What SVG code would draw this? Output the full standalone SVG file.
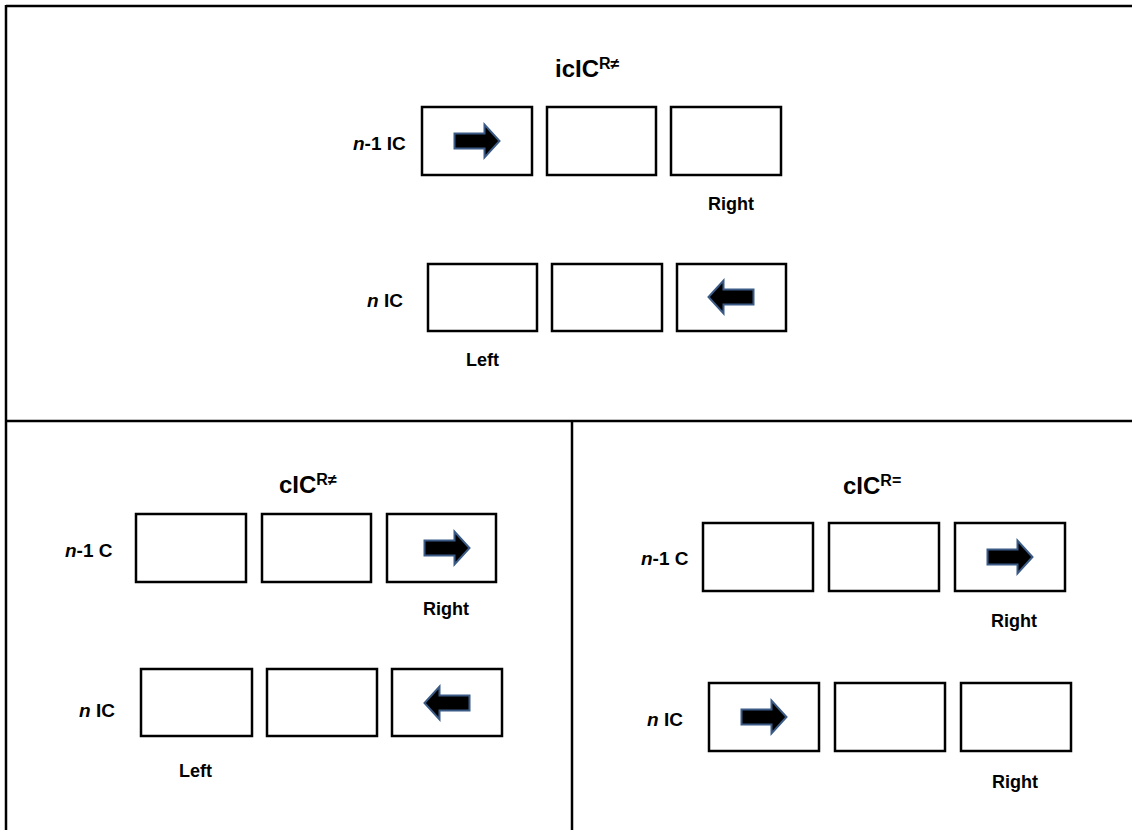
<svg xmlns="http://www.w3.org/2000/svg" xmlns:xlink="http://www.w3.org/1999/xlink" width="1132" height="830" viewBox="0 0 1132 830">
<style>
.frame{stroke:#000;stroke-width:2.5;fill:none}
.box{fill:#fff;stroke:#000;stroke-width:2.5}
.arr{fill:#000;stroke:#3b5b86;stroke-width:2;stroke-linejoin:miter}
.lbl{font-family:"Liberation Sans",Arial,sans-serif;font-size:18px;font-weight:bold;fill:#000}
.row{font-family:"Liberation Sans",Arial,sans-serif;font-size:19px;font-weight:bold;fill:#000}
.ttl{font-family:"Liberation Sans",Arial,sans-serif;font-size:24px;font-weight:bold;fill:#000}
.sup{font-size:16px}
</style>
<defs>
<path id="arrR" class="arr" d="M-22.5,-7.5 H7.5 V-16.5 L22.5,0 L7.5,16.5 V7.5 H-22.5 Z"/>
<path id="arrL" class="arr" d="M22.5,-7.5 H-7.5 V-16.5 L-22.5,0 L-7.5,16.5 V7.5 H22.5 Z"/>
</defs>
<rect width="1132" height="830" fill="#fff"/>
<g id="frame">
<line class="frame" x1="6" y1="6" x2="1132" y2="6"/>
<line class="frame" x1="6" y1="5" x2="6" y2="830"/>
<line class="frame" x1="6" y1="421" x2="1132" y2="421"/>
<line class="frame" x1="572" y1="421" x2="572" y2="830"/>
</g>
<g id="connectors"></g>
<g id="panel-top">
<text class="ttl" x="555" y="77">icIC<tspan class="sup" dy="-8">R≠</tspan></text>
<g id="top-row1">
<text class="row" x="353" y="150"><tspan font-style="italic">n</tspan>-1 IC</text>
<g id="t1b1"><rect class="box" x="422" y="107" width="110" height="68"/><use xlink:href="#arrR" x="477" y="141"/></g>
<g id="t1b2"><rect class="box" x="547" y="107" width="109" height="68"/></g>
<g id="t1b3"><rect class="box" x="671" y="107" width="110" height="68"/></g>
<text class="lbl" x="708" y="210">Right</text>
</g>
<g id="top-row2">
<text class="row" x="367" y="307"><tspan font-style="italic">n</tspan> IC</text>
<g id="t2b1"><rect class="box" x="428" y="264" width="109" height="67"/></g>
<g id="t2b2"><rect class="box" x="552" y="264" width="110" height="67"/></g>
<g id="t2b3"><rect class="box" x="677" y="264" width="109" height="67"/><use xlink:href="#arrL" x="731" y="297"/></g>
<text class="lbl" x="466" y="366">Left</text>
</g>
</g>
<g id="panel-bl">
<text class="ttl" x="279" y="493">cIC<tspan class="sup" dy="-8">R≠</tspan></text>
<g id="bl-row1">
<text class="row" x="65" y="557"><tspan font-style="italic">n</tspan>-1 C</text>
<g id="l1b1"><rect class="box" x="136" y="514" width="110" height="68"/></g>
<g id="l1b2"><rect class="box" x="262" y="514" width="109" height="68"/></g>
<g id="l1b3"><rect class="box" x="387" y="514" width="109" height="68"/><use xlink:href="#arrR" x="447" y="548"/></g>
<text class="lbl" x="423" y="615">Right</text>
</g>
<g id="bl-row2">
<text class="row" x="79" y="717"><tspan font-style="italic">n</tspan> IC</text>
<g id="l2b1"><rect class="box" x="141" y="669" width="111" height="67"/></g>
<g id="l2b2"><rect class="box" x="267" y="669" width="110" height="67"/></g>
<g id="l2b3"><rect class="box" x="392" y="669" width="110" height="67"/><use xlink:href="#arrL" x="447" y="703"/></g>
<text class="lbl" x="179" y="777">Left</text>
</g>
</g>
<g id="panel-br">
<text class="ttl" x="843" y="494">cIC<tspan class="sup" dy="-8">R=</tspan></text>
<g id="br-row1">
<text class="row" x="641" y="565"><tspan font-style="italic">n</tspan>-1 C</text>
<g id="r1b1"><rect class="box" x="703" y="523" width="110" height="68"/></g>
<g id="r1b2"><rect class="box" x="829" y="523" width="110" height="68"/></g>
<g id="r1b3"><rect class="box" x="955" y="523" width="110" height="68"/><use xlink:href="#arrR" x="1010" y="557"/></g>
<text class="lbl" x="991" y="627">Right</text>
</g>
<g id="br-row2">
<text class="row" x="647" y="726"><tspan font-style="italic">n</tspan> IC</text>
<g id="r2b1"><rect class="box" x="709" y="683" width="110" height="68"/><use xlink:href="#arrR" x="764" y="717"/></g>
<g id="r2b2"><rect class="box" x="835" y="683" width="110" height="68"/></g>
<g id="r2b3"><rect class="box" x="961" y="683" width="110" height="68"/></g>
<text class="lbl" x="992" y="788">Right</text>
</g>
</g>
</svg>
